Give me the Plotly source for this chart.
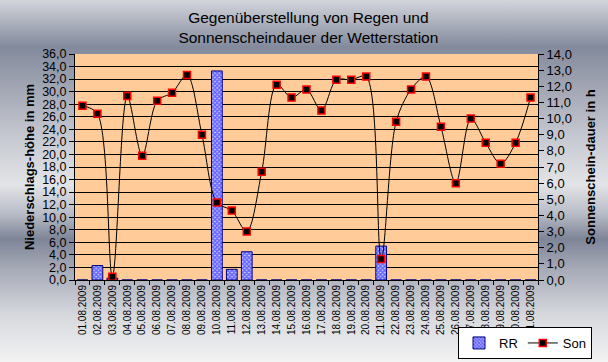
import base64
import plotly.graph_objects as go

days = ["%02d.08.2009" % d for d in range(1, 32)]
rr_mm = [0, 2.3, 0.3, 0, 0, 0, 0, 0, 0, 33.3, 1.7, 4.5, 0, 0, 0, 0, 0, 0, 0, 0,
         5.4, 0, 0, 0, 0, 0, 0, 0, 0, 0, 0]
son_h = [10.8, 10.3, 0.2, 11.4, 7.7, 11.1, 11.6, 12.7, 9.0, 4.8, 4.3, 3.0, 6.7,
         12.1, 11.3, 11.8, 10.5, 12.4, 12.4, 12.6, 1.3, 9.8, 11.8, 12.6, 9.5,
         6.0, 10.0, 8.5, 7.2, 8.5, 11.3]
left_ticks = list(range(0, 37, 2))
right_ticks = list(range(0, 15))

W, H = 608, 362
ML, MR, MT, MB = 75, 70, 54, 82
pw, ph = W - ML - MR, H - MT - MB

stops = [(0.00, "#d3d5db"), (0.05, "#b4b8c3"), (0.13, "#838a9c"), (0.25, "#a4a8b5"),
         (0.38, "#c6c9d1"), (0.51, "#e3e4e7"), (0.59, "#b8bcc6"), (0.66, "#7e8598"),
         (0.74, "#a5a9b6"), (0.87, "#d6d8dd"), (1.00, "#f3f3f3")]
svg = ('<svg xmlns="http://www.w3.org/2000/svg" width="%d" height="%d" '
       'preserveAspectRatio="none"><defs><linearGradient id="g" x1="0" y1="0" x2="0" y2="1">' % (W, H)
       + "".join('<stop offset="%g" stop-color="%s"/>' % s for s in stops)
       + '</linearGradient></defs><rect width="%d" height="%d" fill="url(#g)"/></svg>' % (W, H))
src = "data:image/svg+xml;base64," + base64.b64encode(svg.encode()).decode()

tickfam = "Liberation Sans Narrow, Liberation Sans, Arial"

fig = go.Figure()
fig.add_trace(go.Bar(
    x=days, y=rr_mm, name="RR", width=0.72,
    marker=dict(color="white", line=dict(color="#000080", width=1),
                pattern=dict(shape="x", fgcolor="#0000ff", bgcolor="#c8c8ff", size=3, solidity=0.7)),
    yaxis="y"))
fig.add_trace(go.Scatter(
    x=days, y=son_h, name="Son", mode="lines+markers",
    line=dict(color="black", width=1, shape="spline", smoothing=0.9),
    marker=dict(symbol="square", size=7, color="black", line=dict(color="#ff0000", width=1.5)),
    yaxis="y2"))

fig.update_layout(
    width=W, height=H,
    margin=dict(l=ML, r=MR, t=MT, b=MB, pad=0, autoexpand=False),
    paper_bgcolor="#c0c3cc", plot_bgcolor="rgba(0,0,0,0)",
    separators=",.",
    font=dict(family="Liberation Sans, Arial, sans-serif", size=11, color="black"),
    title=dict(text="Gegenüberstellung von Regen und<br>Sonnenscheindauer der Wetterstation",
               x=0.504, xanchor="center", xref="paper", y=1 - 23 / H, yanchor="middle", yref="container",
               font=dict(size=15.5, color="black")),
    showlegend=True, hovermode=False, bargap=0.28,
    legend=dict(orientation="h", x=(592 - ML) / pw, xanchor="right",
                y=-(327 - MT - ph) / ph, yanchor="top",
                bgcolor="white", bordercolor="black", borderwidth=1,
                font=dict(size=13), itemwidth=30, tracegroupgap=0),
    xaxis=dict(type="category", tickangle=-90, tickfont=dict(size=10), automargin=False,
               showline=True, linecolor="black", linewidth=1, mirror=False,
               ticks="outside", ticklen=4, tickcolor="black", tickson="boundaries",
               showgrid=False, range=[-0.5, 30.5]),
    yaxis=dict(range=[0, 36], tickvals=left_ticks, tickformat=".1f", automargin=False,
               showgrid=True, gridcolor="black", gridwidth=1,
               showline=True, linecolor="black", linewidth=1,
               ticks="outside", ticklen=5, tickcolor="black", zeroline=False,
               tickfont=dict(size=12.5, family=tickfam),
               title=dict(text="<b>Niederschlags-höhe in mm</b>", font=dict(size=13), standoff=4)),
    yaxis2=dict(range=[0, 14], tickvals=right_ticks, tickformat=".1f", overlaying="y", side="right",
                automargin=False,
                showgrid=False, showline=True, linecolor="black", linewidth=1,
                ticks="outside", ticklen=5, tickcolor="black", zeroline=False,
                tickfont=dict(size=13, family=tickfam),
                title=dict(text="<b>Sonnenschein-dauer in h</b>", font=dict(size=13), standoff=14)),
    images=[dict(source=src, xref="paper", yref="paper", x=-ML / pw, y=1 + MT / ph,
                 sizex=W / pw, sizey=H / ph, sizing="stretch", xanchor="left", yanchor="top",
                 layer="below")],
    shapes=[dict(type="rect", xref="paper", yref="paper", x0=0, x1=1, y0=0, y1=1,
                 fillcolor="#ffcc99", line=dict(width=0), layer="below")],
)
fig.write_html("out.html", config={"displayModeBar": False, "staticPlot": True},
               post_script="document.body.style.margin='0';document.body.style.overflow='hidden';")
